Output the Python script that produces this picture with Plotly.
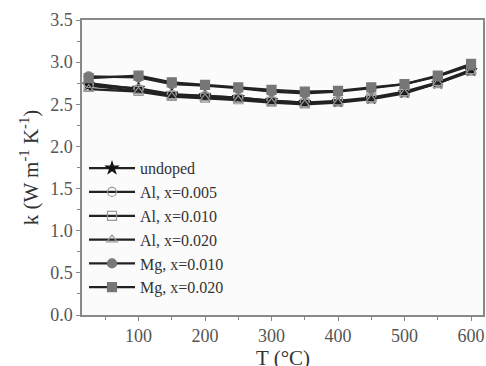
import plotly.graph_objects as go

T = [25, 100, 150, 200, 250, 300, 350, 400, 450, 500, 550, 600]
undoped = [2.73, 2.69, 2.62, 2.60, 2.58, 2.545, 2.52, 2.53, 2.57, 2.64, 2.75, 2.90]
al_005 = [2.75, 2.68, 2.61, 2.60, 2.58, 2.54, 2.52, 2.54, 2.58, 2.65, 2.76, 2.91]
al_010 = [2.72, 2.66, 2.60, 2.58, 2.56, 2.53, 2.51, 2.53, 2.57, 2.64, 2.75, 2.90]
al_020 = [2.68, 2.65, 2.59, 2.57, 2.55, 2.52, 2.50, 2.52, 2.56, 2.63, 2.75, 2.89]
mg_010 = [2.83, 2.82, 2.74, 2.72, 2.69, 2.65, 2.63, 2.65, 2.69, 2.74, 2.83, 2.96]
mg_020 = [2.81, 2.84, 2.76, 2.73, 2.70, 2.67, 2.65, 2.66, 2.70, 2.74, 2.84, 2.98]

series = [
    ("undoped", undoped, "star", "#111111"),
    ("Al, x=0.005", al_005, "circle-open", "#999999"),
    ("Al, x=0.010", al_010, "square-open", "#999999"),
    ("Al, x=0.020", al_020, "triangle-up-open", "#999999"),
    ("Mg, x=0.010", mg_010, "circle", "#777777"),
    ("Mg, x=0.020", mg_020, "square", "#777777"),
]

fig = go.Figure()
for name, ys, sym, mc in series:
    fig.add_trace(go.Scatter(
        x=T, y=ys, name=name, mode="lines+markers",
        line=dict(color="#222222", width=2.2),
        marker=dict(symbol=sym, size=9, color=mc,
                    line=dict(color=mc, width=1.2)),
    ))

axis_common = dict(
    showline=True, linecolor="#888888", linewidth=1.5, mirror=True,
    ticks="outside", tickcolor="#888888", ticklen=4, tickwidth=1.2,
    showgrid=False, zeroline=False, automargin=False,
    tickfont=dict(family="Liberation Serif", size=18, color="#555555"),
)

fig.update_layout(
    width=486, height=366,
    margin=dict(l=82, r=3, t=20, b=51),
    paper_bgcolor="#ffffff", plot_bgcolor="#fbfbfb",
    font=dict(family="Liberation Serif", color="#333333"),
    xaxis=dict(range=[15, 618], tickvals=[100, 200, 300, 400, 500, 600],
               minor=dict(tickvals=[50, 150, 250, 350, 450, 550], ticks="outside",
                          ticklen=3, tickcolor="#888888"),
               **axis_common),
    yaxis=dict(range=[0, 3.5], dtick=0.5, tickformat=".1f",
               minor=dict(dtick=0.25, ticks="outside", ticklen=3, tickcolor="#888888"),
               title=dict(text="k (W m<sup>-1</sup> K<sup>-1</sup>)",
                          font=dict(size=21, family="Liberation Serif", color="#333333"),
                          standoff=6),
               **axis_common),
    legend=dict(x=0.005, y=0.555, xanchor="left", yanchor="top",
                bgcolor="rgba(0,0,0,0)", borderwidth=0,
                font=dict(size=16, family="Liberation Serif", color="#333333"),
                itemwidth=46, tracegroupgap=0),
    showlegend=True,
    annotations=[dict(text="T (°C)", xref="paper", yref="paper", x=0.5, y=-0.146,
                      xanchor="center", yanchor="middle", showarrow=False,
                      font=dict(size=21, family="Liberation Serif", color="#333333"))],
)

fig.write_html("out.html", config={"displayModeBar": False},
               post_script="document.body.style.margin='0';")
